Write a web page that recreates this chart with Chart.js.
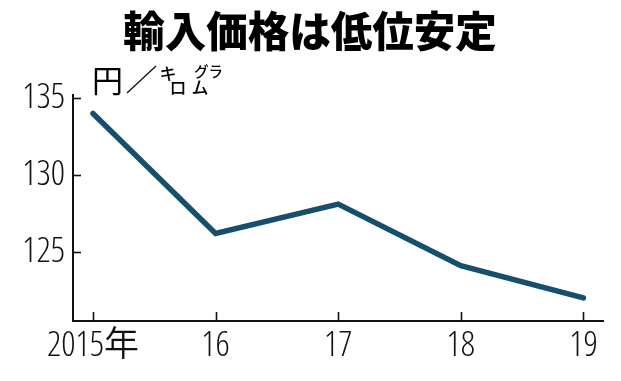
<!DOCTYPE html>
<html>
<head>
<meta charset="utf-8">
<script src="https://cdn.jsdelivr.net/npm/chart.js@4"></script>
<style>
html,body{margin:0;padding:0;background:#fff;}
#wrap{width:621px;height:381px;position:relative;}
</style>
</head>
<body>
<div id="wrap"><canvas id="c" width="621" height="381"></canvas></div>
<script>
const categories = ['2015年', '16', '17', '18', '19'];
const prices = [134.0, 126.2, 128.1, 124.1, 122.0];
const yTicks = [125, 130, 135];
const titleText = '輸入価格は低位安定';
const unitMain = '円';

const NUM_FONT = "'Open Sans', 'Noto Sans CJK JP', sans-serif";
const CJK_FONT = "'Noto Sans CJK JP', sans-serif";

const decorPlugin = {
  id: 'decor',
  afterDraw(chart) {
    const ctx = chart.ctx;
    const xs = chart.scales.x, ys = chart.scales.y;
    const a = chart.chartArea;
    ctx.save();
    ctx.strokeStyle = '#111';
    ctx.lineWidth = 1.6;
    yTicks.forEach(v => {
      const y = Math.round(ys.getPixelForValue(v)) + 0.5;
      ctx.beginPath(); ctx.moveTo(a.left, y); ctx.lineTo(a.left + 8, y); ctx.stroke();
    });
    categories.forEach((c, i) => {
      const x = Math.round(xs.getPixelForValue(i)) + 0.5;
      ctx.beginPath(); ctx.moveTo(x, a.bottom); ctx.lineTo(x, a.bottom - 9); ctx.stroke();
    });
    ctx.fillStyle = '#000';
    ctx.textAlign = 'center';
    ctx.textBaseline = 'middle';
    ctx.font = "900 41.5px " + CJK_FONT;
    ctx.fillText(titleText, 310, 31);
    ctx.font = "400 31px " + CJK_FONT;
    ctx.textAlign = 'left';
    ctx.fillText(unitMain, 92, 80);
    ctx.lineWidth = 1.3;
    ctx.beginPath(); ctx.moveTo(127, 93); ctx.lineTo(156, 66); ctx.stroke();
    ctx.font = "500 17px " + CJK_FONT;
    ctx.textAlign = 'center';
    ctx.fillText('キ', 168, 74);
    ctx.fillText('ロ', 178, 88);
    ctx.fillText('ム', 200, 88);
    ctx.font = "500 14.5px " + CJK_FONT;
    ctx.fillText('グラ', 208.5, 71.5);
    ctx.restore();
  }
};

new Chart(document.getElementById('c'), {
  type: 'line',
  data: {
    datasets: [{
      data: prices.map((v, i) => ({x: i, y: v})),
      borderColor: '#164f6b',
      borderWidth: 5.5,
      pointRadius: 0,
      tension: 0,
      borderCapStyle: 'round',
      borderJoinStyle: 'miter',
      fill: false
    }]
  },
  options: {
    responsive: false,
    animation: false,
    devicePixelRatio: 1,
    layout: {padding: {top: 95, right: 18, left: 0, bottom: 0}},
    plugins: {legend: {display: false}, tooltip: {enabled: false}, title: {display: false}},
    scales: {
      x: {
        type: 'linear',
        min: -0.163,
        max: 4.16,
        afterBuildTicks(s) { s.ticks = categories.map((c, i) => ({value: i})); },
        afterFit(s) { s.height = 60; },
        grid: {display: false, drawTicks: false},
        border: {display: true, color: '#111', width: 2},
        ticks: {
          autoSkip: false,
          maxRotation: 0,
          padding: 4,
          color: '#111',
          font: {family: NUM_FONT, size: 35, weight: '350 condensed'},
          callback: (v) => categories[v]
        }
      },
      y: {
        min: 120.5,
        max: 135.2,
        afterBuildTicks(s) { s.ticks = yTicks.map(v => ({value: v})); },
        afterFit(s) { s.width = 73; },
        grid: {display: false, drawTicks: false},
        border: {display: true, color: '#111', width: 2},
        ticks: {
          padding: 8,
          color: '#111',
          font: {family: NUM_FONT, size: 35, weight: '350 condensed'},
          callback: (v) => String(v)
        }
      }
    }
  },
  plugins: [decorPlugin]
});
</script>
</body>
</html>
